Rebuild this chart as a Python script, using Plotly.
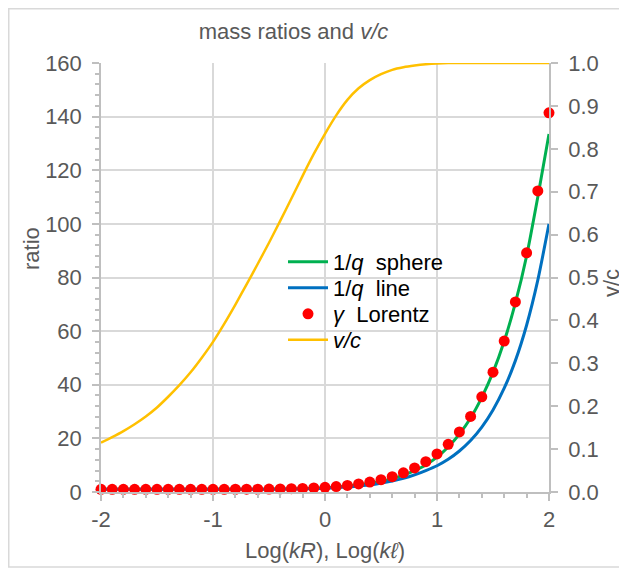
import plotly.graph_objects as go

# log10(kR), log10(kl) sample positions
log_k = [-2.0, -1.9, -1.8, -1.7, -1.6, -1.5, -1.4, -1.3, -1.2, -1.1,
         -1.0, -0.9, -0.8, -0.7, -0.6, -0.5, -0.4, -0.3, -0.2, -0.1,
         0.0, 0.1, 0.2, 0.3, 0.4, 0.5, 0.6, 0.7, 0.8, 0.9,
         1.0, 1.1, 1.2, 1.3, 1.4, 1.5, 1.6, 1.7, 1.8, 1.9, 2.0]

inv_q_sphere = [1.00, 1.00, 1.00, 1.00, 1.00, 1.00, 1.00, 1.00, 1.00, 1.00,
                1.01, 1.01, 1.02, 1.03, 1.05, 1.08, 1.12, 1.18, 1.27, 1.41,
                1.60, 1.85, 2.2, 2.7, 3.3, 4.0, 5.0, 6.3, 8.0, 10.1,
                13.0, 16.8, 21.6, 27.6, 35.3, 44.6, 56.2, 70.5, 88.0, 110.0, 133.5]

inv_q_line = [1.00, 1.00, 1.00, 1.00, 1.00, 1.00, 1.00, 1.00, 1.00, 1.00,
              1.00, 1.01, 1.01, 1.02, 1.03, 1.05, 1.08, 1.12, 1.18, 1.27,
              1.41, 1.6, 1.87, 2.2, 2.7, 3.3, 4.1, 5.1, 6.4, 8.0,
              9.8, 12.2, 15.3, 19.2, 24.2, 30.6, 38.7, 49.0, 62.2, 79.0, 100.0]

gamma_lorentz = [1.00, 1.00, 1.00, 1.00, 1.00, 1.00, 1.00, 1.00, 1.00, 1.01,
                 1.01, 1.02, 1.03, 1.04, 1.06, 1.10, 1.15, 1.23, 1.34, 1.50,
                 1.73, 2.04, 2.45, 2.99, 3.69, 4.58, 5.72, 7.15, 8.98, 11.3,
                 14.2, 17.8, 22.4, 28.2, 35.5, 44.7, 56.3, 70.9, 89.2, 112.3, 141.4]

v_over_c = [0.115, 0.128, 0.142, 0.158, 0.176, 0.197, 0.222, 0.249, 0.279, 0.313,
            0.350, 0.392, 0.437, 0.484, 0.532, 0.581, 0.632, 0.684, 0.737, 0.788,
            0.835, 0.878, 0.914, 0.941, 0.960, 0.974, 0.984, 0.990, 0.994, 0.997,
            0.999, 1.0, 1.0, 1.0, 1.0, 1.0, 1.0, 1.0, 1.0, 1.0, 1.0]

x_ticks = [-2, -1, 0, 1, 2]
x_tick_text = ["-2", "-1", "0", "1", "2"]

# the page body has an 8px margin, so the figure is drawn 8px in from the window corner
OFF = 8
W, H = 627 - OFF, 571 - OFF
L, R, T, B = 101 - OFF, 549 - OFF, 63 - OFF, 492 - OFF  # plot area, figure pixels
pw, ph = R - L, B - T


def px(x):
    # window pixel -> paper x
    return (x - OFF - L) / pw


def py(y):
    # window pixel -> paper y
    return (B - (y - OFF)) / ph


FONT = "Liberation Sans, Arial, sans-serif"
GREY = "#595959"
AXIS = "#bfbfbf"
GRID = "#d9d9d9"

fig = go.Figure()

fig.add_trace(go.Scatter(
    x=log_k, y=inv_q_sphere, mode="lines", name="1/<i>q</i>\u00a0\u00a0sphere",
    line=dict(color="#00b050", width=3, shape="spline", smoothing=0.6), legend="legend"))
fig.add_trace(go.Scatter(
    x=log_k, y=inv_q_line, mode="lines", name="1/<i>q</i>\u00a0\u00a0line",
    line=dict(color="#0070c0", width=3, shape="spline", smoothing=0.6), legend="legend2"))
fig.add_trace(go.Scatter(
    x=log_k, y=gamma_lorentz, mode="markers", name="<i>γ</i>\u00a0\u00a0Lorentz",
    marker=dict(color="#ff0000", size=11), cliponaxis=False, legend="legend3"))
fig.add_trace(go.Scatter(
    x=log_k, y=v_over_c, mode="lines", name="<i>v/c</i>", yaxis="y2",
    line=dict(color="#ffc000", width=2.5, shape="spline", smoothing=0.6), legend="legend4"))

leg_x = px(283)
leg = dict(xanchor="left", yanchor="middle", bgcolor="rgba(0,0,0,0)",
           font=dict(size=22, color="#000000"), itemwidth=40)

fig.update_layout(
    width=W, height=H,
    margin=dict(l=L, r=W - R, t=T, b=H - B),
    paper_bgcolor="white", plot_bgcolor="white",
    font=dict(family=FONT, size=22, color=GREY),
    title=dict(text="mass ratios and <i>v/c</i>", x=(293.5 - OFF) / W, xref="container",
               y=1 - (31 - OFF) / H, yref="container", xanchor="center", yanchor="middle",
               font=dict(size=22, color=GREY)),
    xaxis=dict(range=[-2, 2], tickvals=x_ticks, ticktext=x_tick_text,
               showgrid=True, gridcolor=GRID, gridwidth=1.5,
               zeroline=False, showline=True, linecolor=AXIS, linewidth=1.5,
               ticks="outside", ticklen=7, tickcolor=AXIS, tickwidth=1.5,
               minor=dict(dtick=0.2, ticks="outside", ticklen=4, tickcolor=AXIS, showgrid=False),
               ticklabelstandoff=0),
    yaxis=dict(range=[0, 160], dtick=20, showgrid=True, gridcolor=GRID, gridwidth=1.5,
               zeroline=False, showline=True, linecolor=AXIS, linewidth=1.5,
               ticks="outside", ticklen=7, tickcolor=AXIS, tickwidth=1.5,
               minor=dict(dtick=4, ticks="outside", ticklen=4, tickcolor=AXIS, showgrid=False),
               ticklabelstandoff=6),
    yaxis2=dict(range=[0, 1], dtick=0.1, tickformat=".1f", overlaying="y", side="right",
                showgrid=False, zeroline=False, showline=True, linecolor=AXIS, linewidth=1.5,
                ticks="outside", ticklen=7, tickcolor=AXIS, tickwidth=1.5,
                ticklabelstandoff=6),
    legend=dict(leg, x=leg_x, y=py(262)),
    legend2=dict(leg, x=leg_x, y=py(288)),
    legend3=dict(leg, x=leg_x, y=py(314)),
    legend4=dict(leg, x=leg_x, y=py(340)),
    showlegend=True,
)

# axis titles placed where the reference has them
fig.add_annotation(text="ratio", x=px(31), y=py(249), xref="paper", yref="paper",
                   xanchor="center", yanchor="middle",
                   textangle=-90, showarrow=False, font=dict(size=22, color=GREY))
fig.add_annotation(text="v/c", x=px(611), y=py(283), xref="paper", yref="paper",
                   xanchor="center", yanchor="middle",
                   textangle=-90, showarrow=False, font=dict(size=22, color=GREY))
fig.add_annotation(text="Log(<i>kR</i>), Log(<i>kℓ</i>)", x=px(325), y=py(550),
                   xref="paper", yref="paper", xanchor="center", yanchor="middle",
                   showarrow=False, font=dict(size=22, color=GREY))

# white legend box hiding the gridlines behind the legend
fig.add_shape(type="rect", xref="paper", yref="paper",
              x0=px(278), x1=px(482), y0=py(363), y1=py(237),
              fillcolor="white", line=dict(width=0), layer="between")

# chart frame
fig.add_shape(type="rect", xref="paper", yref="paper",
              x0=(0.75 - L) / pw, x1=(W - 1 - L) / pw, y0=(B - (567 - OFF)) / ph, y1=(B - 0.75) / ph,
              line=dict(color="#d9d9d9", width=1.5), layer="below")

fig.write_html("out.html")
